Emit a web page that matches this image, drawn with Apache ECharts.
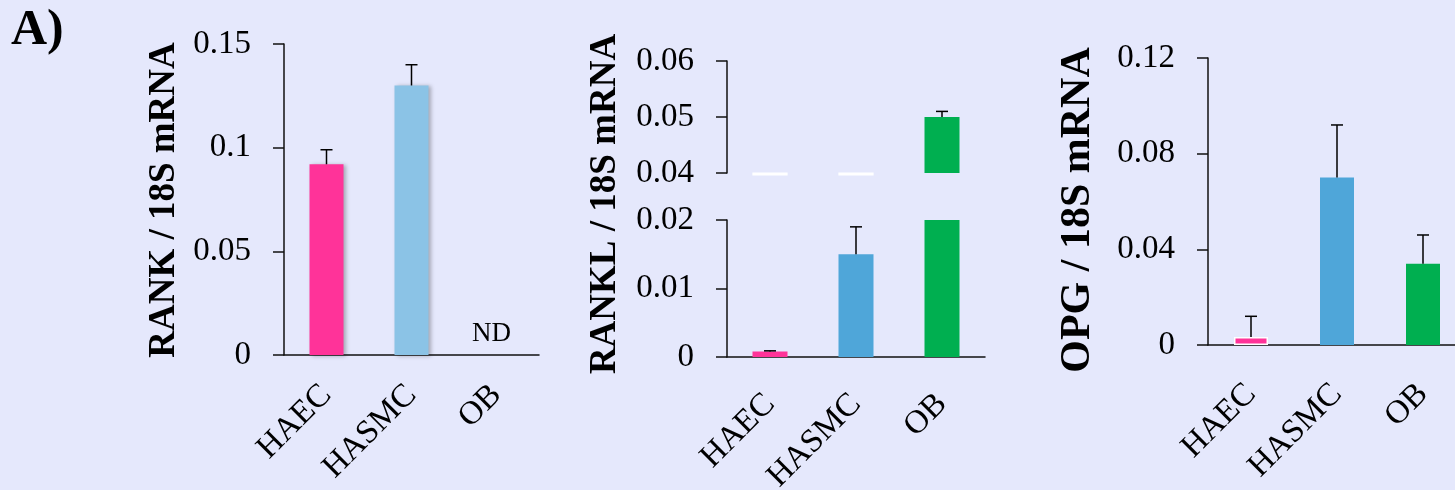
<!DOCTYPE html>
<html><head><meta charset="utf-8">
<script src="https://cdn.jsdelivr.net/npm/echarts@6/dist/echarts.min.js"></script>
<style>html,body{margin:0;padding:0;background:#E5E8FC;} #c{width:1455px;height:490px;}</style>
</head><body><div id="c"></div>
<script>
// ---- data ----
const categories = ['HAEC', 'HASMC', 'OB'];
const rankValues = [0.092, 0.130, null];
const rankErrors = [0.007, 0.010, null];
const ranklValues = [0.0008, 0.015, 0.050];
const ranklErrors = [0.0001, 0.004, 0.001];
const opgValues = [0.0033, 0.070, 0.034];
const opgErrors = [0.0087, 0.022, 0.012];
const rankTicks = [0, 0.05, 0.1, 0.15];
const ranklLowerTicks = [0, 0.01, 0.02];
const ranklUpperTicks = [0.04, 0.05, 0.06];
const opgTicks = [0, 0.04, 0.08, 0.12];
const rankTitle = 'RANK / 18S mRNA';
const ranklTitle = 'RANKL / 18S mRNA';
const opgTitle = 'OPG / 18S mRNA';
const panelLabel = 'A)';
const ndLabel = 'ND';

// ---- styles ----
const SERIF = '"Liberation Serif", "Times New Roman", serif';
const AXIS_COLOR = '#111';
const pink = '#FF3399', lightBlue = '#8BC3E6', blue = '#4FA6D9', green = '#00AF50';
const colors1 = [pink, lightBlue, green];
const colors2 = [pink, blue, green];

function ext(t) {
  return { min: t[0], max: t[t.length - 1], interval: +(t[1] - t[0]).toFixed(6) };
}
function xAxisCfg(gi, show, margin) {
  return {
    type: 'category', gridIndex: gi, data: categories, show: show,
    boundaryGap: true,
    axisLine: { show: true, lineStyle: { color: AXIS_COLOR, width: 1.5 } },
    axisTick: { show: false },
    axisLabel: { rotate: 45, fontSize: 33, fontFamily: SERIF, color: '#000', margin: margin, interval: 0,
                 align: 'right', verticalAlign: 'middle' }
  };
}
function yAxisCfg(gi, ticks) {
  const e = ext(ticks);
  return Object.assign({
    type: 'value', gridIndex: gi,
    axisLine: { show: true, lineStyle: { color: AXIS_COLOR, width: 1.5 } },
    axisTick: { show: true, inside: false, length: 11, lineStyle: { color: AXIS_COLOR, width: 1.5 } },
    splitLine: { show: false },
    axisLabel: { fontSize: 33, fontFamily: SERIF, color: '#000', margin: 33 }
  }, e);
}
function errSeries(xi, yi, values, errors, filter) {
  const data = values.map((v, i) => [i, v == null ? NaN : v, errors[i] == null ? NaN : errors[i]]);
  return {
    type: 'custom', xAxisIndex: xi, yAxisIndex: yi, z: 5, silent: true,
    data: data,
    renderItem: function (params, api) {
      const i = api.value(0), v = api.value(1), e = api.value(2);
      if (isNaN(v) || isNaN(e)) return;
      if (filter && !filter(v, e)) return;
      const b = api.coord([i, v]), t = api.coord([i, v + e]);
      const cap = 6;
      return {
        type: 'group', children: [
          { type: 'line', shape: { x1: b[0], y1: b[1], x2: t[0], y2: t[1] }, style: { stroke: '#000', lineWidth: 1.5 } },
          { type: 'line', shape: { x1: t[0] - cap, y1: t[1], x2: t[0] + cap, y2: t[1] }, style: { stroke: '#000', lineWidth: 1.5 } }
        ]
      };
    }
  };
}
const shadowStyle = { shadowColor: 'rgba(0,0,0,0.28)', shadowBlur: 4, shadowOffsetX: 2, shadowOffsetY: 1 };

const upperMin = ranklUpperTicks[0];
const lowerMax = ranklLowerTicks[ranklLowerTicks.length - 1];

const option = {
  backgroundColor: '#E5E8FC',
  animation: false,
  grid: [
    { left: 284, top: 44, width: 255, height: 311, outerBoundsMode: 'none', containLabel: false },
    { left: 727, top: 220, width: 258, height: 137, outerBoundsMode: 'none', containLabel: false },
    { left: 727, top: 61, width: 258, height: 112, outerBoundsMode: 'none', containLabel: false },
    { left: 1208, top: 58, width: 258, height: 287, outerBoundsMode: 'none', containLabel: false }
  ],
  xAxis: [xAxisCfg(0, true, 35), xAxisCfg(1, true, 42), xAxisCfg(2, false, 30), xAxisCfg(3, true, 44)],
  yAxis: [yAxisCfg(0, rankTicks), yAxisCfg(1, ranklLowerTicks), yAxisCfg(2, ranklUpperTicks), yAxisCfg(3, opgTicks)],
  series: [
    {
      type: 'bar', xAxisIndex: 0, yAxisIndex: 0, barWidth: 34,
      data: rankValues.map((v, i) => v == null
        ? { value: 0, itemStyle: { color: 'rgba(0,0,0,0)', shadowBlur: 0, shadowOffsetX: 0, shadowOffsetY: 0 },
            label: { show: true, position: 'top', distance: 8, offset: [-5, 0], formatter: ndLabel, fontSize: 27, fontFamily: SERIF, color: '#000' } }
        : { value: v, itemStyle: Object.assign({ color: colors1[i] }, shadowStyle) })
    },
    errSeries(0, 0, rankValues, rankErrors),
    {
      type: 'bar', xAxisIndex: 1, yAxisIndex: 1, barWidth: 35, clip: true,
      data: ranklValues.map((v, i) => ({ value: v, itemStyle: { color: colors2[i] } }))
    },
    {
      type: 'bar', xAxisIndex: 2, yAxisIndex: 2, barWidth: 35, clip: true,
      data: ranklValues.map((v, i) => ({ value: v >= upperMin ? v : null, itemStyle: { color: colors2[i] } }))
    },
    {
      type: 'custom', xAxisIndex: 2, yAxisIndex: 2, z: 4, silent: true,
      data: ranklValues.map((v, i) => [i, v]),
      renderItem: function (params, api) {
        const i = api.value(0), v = api.value(1);
        if (v >= upperMin) return;
        const p = api.coord([i, upperMin]);
        const w = api.size([1, 0])[0] * 0.41 / 2;
        return { type: 'line', shape: { x1: p[0] - w, y1: p[1] + 1, x2: p[0] + w, y2: p[1] + 1 }, style: { stroke: '#fff', lineWidth: 3 } };
      }
    },
    errSeries(1, 1, ranklValues, ranklErrors, (v, e) => v + e <= lowerMax),
    errSeries(2, 2, ranklValues, ranklErrors, (v, e) => v >= upperMin),
    {
      type: 'bar', xAxisIndex: 3, yAxisIndex: 3, barWidth: 34,
      data: opgValues.map((v, i) => ({ value: v, itemStyle: i === 0 ? { color: colors2[i], borderColor: '#fff', borderWidth: 1.5 } : { color: colors2[i] } }))
    },
    errSeries(3, 3, opgValues, opgErrors)
  ],
  graphic: [
    { type: 'text', x: 11, y: 31, style: { text: panelLabel, font: 'bold 50px ' + SERIF, fill: '#000', align: 'left', verticalAlign: 'middle', textAlign: 'left', textVerticalAlign: 'middle', shadowColor: 'rgba(0,0,0,0.45)', shadowBlur: 4, shadowOffsetX: 3, shadowOffsetY: 3 } },
    { type: 'text', x: 164, y: 200, rotation: Math.PI / 2, style: { text: rankTitle, font: 'bold 37px ' + SERIF, fill: '#000', align: 'center', verticalAlign: 'middle', textAlign: 'center', textVerticalAlign: 'middle' } },
    { type: 'text', x: 605, y: 204, rotation: Math.PI / 2, style: { text: ranklTitle, font: 'bold 37px ' + SERIF, fill: '#000', align: 'center', verticalAlign: 'middle', textAlign: 'center', textVerticalAlign: 'middle' } },
    { type: 'text', x: 1078, y: 210, rotation: Math.PI / 2, style: { text: opgTitle, font: 'bold 42px ' + SERIF, fill: '#000', align: 'center', verticalAlign: 'middle', textAlign: 'center', textVerticalAlign: 'middle' } }
  ]
};
const chart = echarts.init(document.getElementById('c'));
chart.setOption(option);
</script>
</body></html>
